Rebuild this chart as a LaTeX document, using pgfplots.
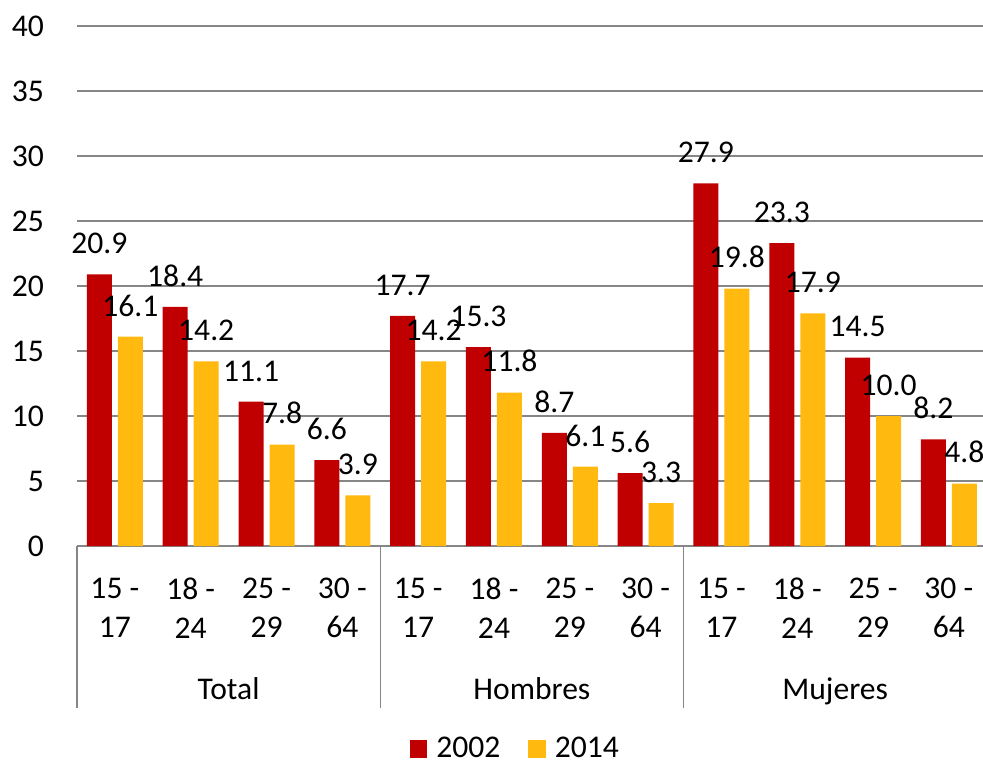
\documentclass[border=0pt]{standalone}
\usepackage{pgfplots}
\pgfplotsset{compat=1.18}
\usepackage{fontspec}
\setmainfont{Carlito}

\definecolor{rojo}{HTML}{C00000}
\definecolor{oro}{HTML}{FFB90F}
\definecolor{rejilla}{HTML}{868686}

\begin{document}
\begin{tikzpicture}[font=\fontsize{15.8}{19.5}\selectfont]
\begin{axis}[
  at={(38.5pt,107pt)}, anchor=south west,
  scale only axis,
  width=453pt, height=260pt,
  xmin=-0.5, xmax=11.45,
  ymin=0, ymax=40,
  ytick={0,5,...,40},
  xtick=data,
  xticklabels={{15 -\\17},{18 -\\24},{25 -\\29},{30 -\\64},
               {15 -\\17},{18 -\\24},{25 -\\29},{30 -\\64},
               {15 -\\17},{18 -\\24},{25 -\\29},{30 -\\64}},
  xticklabel style={align=center, anchor=north, inner sep=0pt, yshift=-16pt},
  yticklabel style={anchor=east, inner sep=0pt, xshift=-16.3pt},
  /pgf/number format/assume math mode=true,
  major tick length=0pt,
  axis x line*=bottom, axis y line*=left,
  x axis line style={draw=rejilla, line width=0.7pt},
  y axis line style={draw=none},
  ymajorgrids,
  grid style={draw=rejilla, line width=0.7pt},
  ybar=3pt, bar width=12.5pt,
  nodes near coords,
  every node near coord/.append style={
    /pgf/number format/fixed, /pgf/number format/fixed zerofill,
    /pgf/number format/precision=1,
    /tikz/inner sep=0pt, /tikz/yshift=10pt, /tikz/text=black},
  clip=false,
  legend columns=2,
  legend style={at={(0.3675,-0.39)}, anchor=west, draw=none, fill=none,
    inner sep=0pt, outer sep=0pt,
    /tikz/every odd column/.append style={column sep=2.5pt},
    /tikz/every even column/.append style={column sep=12pt}},
  legend image code/.code={\fill[#1] (0pt,-4.35pt) rectangle (8.7pt,4.35pt);},
]
% 2002
\addplot[fill=rojo, draw=none] coordinates {
  (0,20.9) (1,18.4) (2,11.1) (3,6.6)
  (4,17.7) (5,15.3) (6,8.7) (7,5.6)
  (8,27.9) (9,23.3) (10,14.5) (11,8.2)
};
% 2014
\addplot[fill=oro, draw=none] coordinates {
  (0,16.1) (1,14.2) (2,7.8) (3,3.9)
  (4,14.2) (5,11.8) (6,6.1) (7,3.3)
  (8,19.8) (9,17.9) (10,10.0) (11,4.8)
};
\legend{2002,2014}

% separadores y grupos del eje x
\pgfplotsinvokeforeach{-0.5,3.5,7.5,11.5}{
  \draw[draw=rejilla, line width=0.7pt] (axis cs:#1,0) -- ++(0pt,-81pt);
}
\node[anchor=base, inner sep=0pt] at (axis cs:1.5,0) [yshift=-76.5pt] {Total};
\node[anchor=base, inner sep=0pt] at (axis cs:5.5,0) [yshift=-76.5pt] {Hombres};
\node[anchor=base, inner sep=0pt] at (axis cs:9.5,0) [yshift=-76.5pt] {Mujeres};
\end{axis}
\pgfresetboundingbox
\path[use as bounding box] (0,0) rectangle (491.5pt,380pt);
\end{tikzpicture}
\end{document}
